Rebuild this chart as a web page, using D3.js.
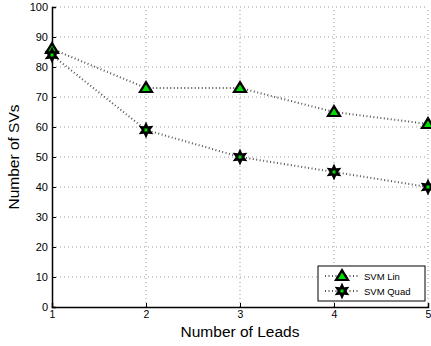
<!DOCTYPE html>
<html><head><meta charset="utf-8">
<script src="https://cdn.jsdelivr.net/npm/d3@7"></script>
<style>body{margin:0;background:#fff}svg{display:block}text{font-family:"Liberation Sans",Arial,sans-serif}</style>
</head><body><svg id="c" width="431" height="346"></svg>
<script>
const leads = [1, 2, 3, 4, 5];
const svmLin = [86, 73, 73, 65, 61];
const svmQuad = [84, 59, 50, 45, 40];
const yTicks = [0, 10, 20, 30, 40, 50, 60, 70, 80, 90, 100];
const seriesNames = ["SVM Lin", "SVM Quad"];

const svg = d3.select("#c");
const m = {l: 52, r: 2, t: 7, b: 39};
const W = 431, H = 346;
const x = d3.scaleLinear().domain([1, 5]).range([m.l, W - m.r - 1]);
const y = d3.scaleLinear().domain([0, 100]).range([H - m.b, m.t]);

// grid
const g = svg.append("g");
g.selectAll(".gx").data(leads.slice(1)).join("line")
  .attr("x1", d => x(d)).attr("x2", d => x(d)).attr("y1", y(0)).attr("y2", y(100))
  .attr("stroke", "#999").attr("stroke-width", 1).attr("stroke-dasharray", "1,3");
g.selectAll(".gy").data(yTicks.slice(1)).join("line")
  .attr("x1", x(1)).attr("x2", x(5)).attr("y1", d => y(d)).attr("y2", d => y(d))
  .attr("stroke", "#999").attr("stroke-width", 1).attr("stroke-dasharray", "1,3");

// axes
const xAxis = d3.axisBottom(x).tickValues(leads).tickFormat(d3.format("d")).tickSize(-4).tickPadding(4);
const yAxis = d3.axisLeft(y).tickValues(yTicks).tickSize(-4).tickPadding(4);
const gx = svg.append("g").attr("transform", `translate(0,${y(0)})`).call(xAxis);
const gy = svg.append("g").attr("transform", `translate(${x(1)},0)`).call(yAxis);
[gx, gy].forEach(a => {
  a.select(".domain").attr("stroke", "#000").attr("stroke-width", 1.5);
  a.selectAll("text").attr("fill", "#000").attr("font-family", '"Liberation Sans",Arial,sans-serif');
  a.selectAll(".tick line").attr("stroke", "#000");
});
gx.selectAll("text").attr("font-size", 10.5);
gy.selectAll("text").attr("font-size", 11);

// lines
const line = d3.line().x((d, i) => x(leads[i])).y(d => y(d));
[svmLin, svmQuad].forEach(s => {
  svg.append("path").datum(s).attr("d", line).attr("fill", "none")
    .attr("stroke", "#555").attr("stroke-width", 2).attr("stroke-dasharray", "1,2.5");
});

// markers
function triangle(sel, cx, cy) {
  sel.append("path").attr("d", `M${cx},${cy-8}L${cx+8},${cy+5}L${cx-8},${cy+5}Z`)
    .attr("fill", "#000");
  sel.append("path").attr("d", `M${cx},${cy-3.5}L${cx+4},${cy+3}L${cx-4},${cy+3}Z`)
    .attr("fill", "#00dd00");
}
function hexagram(sel, cx, cy) {
  const pts = [];
  for (let k = 0; k < 12; k++) {
    const r = k % 2 === 0 ? 8.5 : 4.3;
    const a = -Math.PI / 2 + k * Math.PI / 6;
    pts.push([cx + r * Math.cos(a), cy + r * Math.sin(a)]);
  }
  sel.append("path").attr("d", "M" + pts.join("L") + "Z").attr("fill", "#000");
  sel.append("rect").attr("x", cx - 1.5).attr("y", cy - 1.5).attr("width", 3).attr("height", 3).attr("fill", "#00dd00");
}
const mk = svg.append("g");
svmLin.forEach((v, i) => triangle(mk, x(leads[i]), y(v)));
svmQuad.forEach((v, i) => hexagram(mk, x(leads[i]), y(v)));

// labels
svg.append("text").attr("x", 240).attr("y", 337).attr("text-anchor", "middle")
  .attr("font-size", 15.5).text("Number of Leads");
svg.append("text").attr("transform", `translate(19,${(y(0)+y(100))/2}) rotate(-90)`)
  .attr("text-anchor", "middle").attr("font-size", 15.5).text("Number of SVs");

// legend
const lg = svg.append("g");
lg.append("rect").attr("x", 318).attr("y", 266).attr("width", 107).attr("height", 35)
  .attr("fill", "#fff").attr("stroke", "#000").attr("stroke-width", 1);
[276, 291].forEach((yy, i) => {
  lg.append("line").attr("x1", 325).attr("x2", 358).attr("y1", yy).attr("y2", yy)
    .attr("stroke", "#555").attr("stroke-width", 2).attr("stroke-dasharray", "1,2.5");
  if (i === 0) triangle(lg, 342, yy); else hexagram(lg, 342, yy);
  lg.append("text").attr("x", 364).attr("y", yy + 3.5).attr("font-size", 9.5).text(seriesNames[i]);
});
</script></body></html>
